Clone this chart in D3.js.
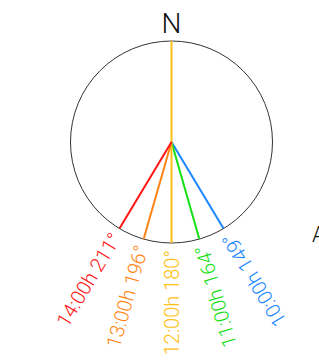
<!DOCTYPE html>
<html>
<head>
<meta charset="utf-8">
<script src="https://cdn.jsdelivr.net/npm/d3@7"></script>
<style>
  body { margin: 0; background: #fff; overflow: hidden; }
  svg { display: block; }
  text { font-family: 'Helvetica Neue', Roboto, sans-serif; font-weight: 300; }
</style>
</head>
<body>
<svg id="chart" width="319" height="360"></svg>
<script>
// Sun azimuth at each hour
const hours = ['10:00h', '11:00h', '12:00h', '13:00h', '14:00h'];
const azimuths = [149, 164, 180, 196, 211];
const colors = ['#1a86ff', '#14e014', '#ffbf14', '#ff8414', '#ff1414'];
const northLabel = 'N';

const width = 319, height = 360;
const cx = 171.5, cy = 142, r = 101;

const svg = d3.select('#chart');

// angle scale: degrees -> radians (0 = north, clockwise)
const angle = d3.scaleLinear().domain([0, 360]).range([0, 2 * Math.PI]);
const radius = d3.scaleLinear().domain([0, 1]).range([0, r]);

const g = svg.append('g').attr('transform', `translate(${cx},${cy})`);

// compass circle
g.append('circle')
  .attr('r', radius(1))
  .attr('fill', 'none')
  .attr('stroke', '#333')
  .attr('stroke-width', 1);

// north line
g.append('line')
  .attr('x1', 0).attr('y1', 0)
  .attr('x2', radius(1) * Math.sin(angle(0)))
  .attr('y2', -radius(1) * Math.cos(angle(0)))
  .attr('stroke', colors[2])
  .attr('stroke-width', 2);

g.append('text')
  .attr('x', 0)
  .attr('y', -radius(1) - 8)
  .attr('text-anchor', 'middle')
  .attr('font-size', 28)
  .attr('fill', '#111')
  .text(northLabel);

const data = hours.map((h, i) => ({ hour: h, az: azimuths[i], color: colors[i] }));

// sun rays
g.selectAll('line.ray')
  .data(data)
  .join('line')
  .attr('class', 'ray')
  .attr('x1', 0).attr('y1', 0)
  .attr('x2', d => radius(1) * Math.sin(angle(d.az)))
  .attr('y2', d => -radius(1) * Math.cos(angle(d.az)))
  .attr('stroke', d => d.color)
  .attr('stroke-width', 2);

// labels, reading inward toward the centre
g.selectAll('text.lbl')
  .data(data)
  .join('text')
  .attr('class', 'lbl')
  .attr('transform', d => {
    const a = angle(d.az);
    const rr = radius(1) + 7;
    const x = rr * Math.sin(a), y = -rr * Math.cos(a);
    const rot = d.az + 90; // text direction points back to centre
    return `translate(${x},${y}) rotate(${rot})`;
  })
  .attr('text-anchor', 'end')
  .attr('dy', '0.35em')
  .attr('font-size', 20)
  .attr('fill', d => d.color)
  .text(d => `${d.hour} ${d.az}°`);

// partly visible label on the right edge
svg.append('text')
  .attr('x', 312)
  .attr('y', 242)
  .attr('font-size', 22)
  .attr('font-weight', 400)
  .attr('fill', '#111')
  .text('A');
</script>
</body>
</html>
